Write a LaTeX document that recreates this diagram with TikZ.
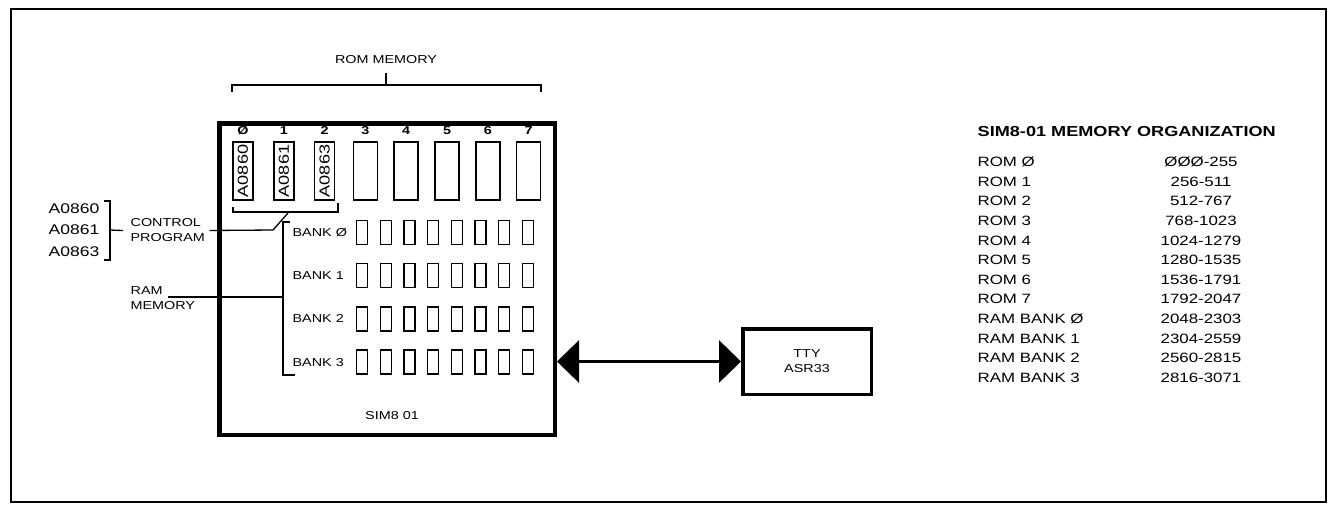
\documentclass[tikz,border=0pt]{standalone}
\usepackage{graphicx}
\usepackage{fontspec}
\setmainfont{Liberation Sans}[FakeStretch=1.25]
\usetikzlibrary{arrows.meta, positioning, calc}

\tikzset{
  lbl/.style={font=\fontsize{11.5}{15}\selectfont, inner sep=0pt},
  numlbl/.style={font=\bfseries\fontsize{11.5}{15}\selectfont, inner sep=0pt},
  tbl/.style={font=\fontsize{13.5}{15}\selectfont, inner sep=0pt},
  romchip/.style={draw, line width=1.6pt, minimum width=24pt, minimum height=58pt, inner sep=0pt},
  ramchip/.style={draw, line width=1.4pt, minimum width=11pt, minimum height=24pt, inner sep=0pt},
}

\begin{document}
\begin{tikzpicture}[x=1pt, y=-1pt, line width=1.3pt]
  \useasboundingbox (0,0) rectangle (1332,504);

  % Frame
  \draw[line width=2pt] (11,9) rectangle (1326,502);

  % SIM8-01 board
  \node[draw, line width=4.5pt, minimum width=335.5pt, minimum height=311.5pt, inner sep=0pt] (sim) at (387,279) {};
  \node[lbl] (simname) at (392,416) {SIM8 01};

  % ROM sockets
  \foreach \i/\part in {0/A0860, 1/A0861, 2/A0863}
    \node[romchip, minimum width=20pt, font=\fontsize{14.5}{15}\selectfont] (rom\i) at ({243+40.8*\i},171) {\rotatebox{90}{\part}};
  \foreach \i in {3,...,7}
    \node[romchip] (rom\i) at ({243+40.8*\i},171) {};
  \foreach \i/\n in {0/Ø,1/1,2/2,3/3,4/4,5/5,6/6,7/7}
    \node[numlbl, above=6pt of rom\i] {\n};

  % ROM bracket
  \node[lbl] (romlbl) at (386,60) {ROM MEMORY};
  \draw (232,92) -- (232,85) -- (541,85) -- (541,92);
  \draw ([yshift=-8pt]romlbl.south) -- (386,85);

  % RAM banks
  \foreach \r/\n in {0/Ø,1/1,2/2,3/3}{
    \node[lbl, anchor=west] (bank\r) at (292,{232.5+43.2*\r}) {BANK \n};
    \foreach \c in {0,...,7}
      \node[ramchip] (ram\r\c) at ({362+23.7*\c},{232.5+43.2*\r}) {};
  }

  % Control program
  \node[font=\fontsize{14}{21.5}\selectfont, inner sep=0pt, align=right, anchor=east] (progs) at (100,230) {A0860\\A0861\\A0863};
  \draw (104,201) -- (110,201) -- (110,260) -- (104,260);
  \node[lbl, align=left, anchor=west] (ctrl) at (130,230.5) {CONTROL\\PROGRAM};
  \draw (110,230) -- ([xshift=-7pt]ctrl.west);
  \draw (233,207) -- (233,212) -- (338,212) -- (338,203);
  \draw ([xshift=4pt]ctrl.east) -- (273,230) -- (288,213);

  % RAM memory
  \node[lbl, align=left, anchor=west] (rammem) at (130,298.5) {RAM\\MEMORY};
  \draw (168,297) -- (283,297);
  \draw (290,222) -- (283,222) -- (283,375) -- (295,375);

  % Teletype
  \node[draw, line width=3.5pt, minimum width=128.5pt, minimum height=65.5pt, align=center, font=\fontsize{11.5}{15}\selectfont] (tty) at (807,361.5) {TTY\\ASR33};
  \draw[line width=3pt, {Triangle[length=22pt,width=42pt]}-{Triangle[length=22pt,width=42pt]}] (sim.east |- tty.west) -- (tty.west);

  % Memory map
  \node[font=\bfseries\fontsize{14.5}{15}\selectfont, inner sep=0pt, anchor=west] (ttl) at (977,132) {SIM8-01 MEMORY ORGANIZATION};
  \foreach \lab/\rng [count=\k from 0] in {ROM Ø/ØØØ-255, ROM 1/256-511, ROM 2/512-767, ROM 3/768-1023,
      ROM 4/1024-1279, ROM 5/1280-1535, ROM 6/1536-1791, ROM 7/1792-2047,
      RAM BANK Ø/2048-2303, RAM BANK 1/2304-2559, RAM BANK 2/2560-2815, RAM BANK 3/2816-3071}{
    \node[tbl, anchor=west] (mem\k) at (977,{162+19.6*\k}) {\lab};
    \node[tbl] (adr\k) at (1201,{162+19.6*\k}) {\rng};
  }
\end{tikzpicture}
\end{document}
